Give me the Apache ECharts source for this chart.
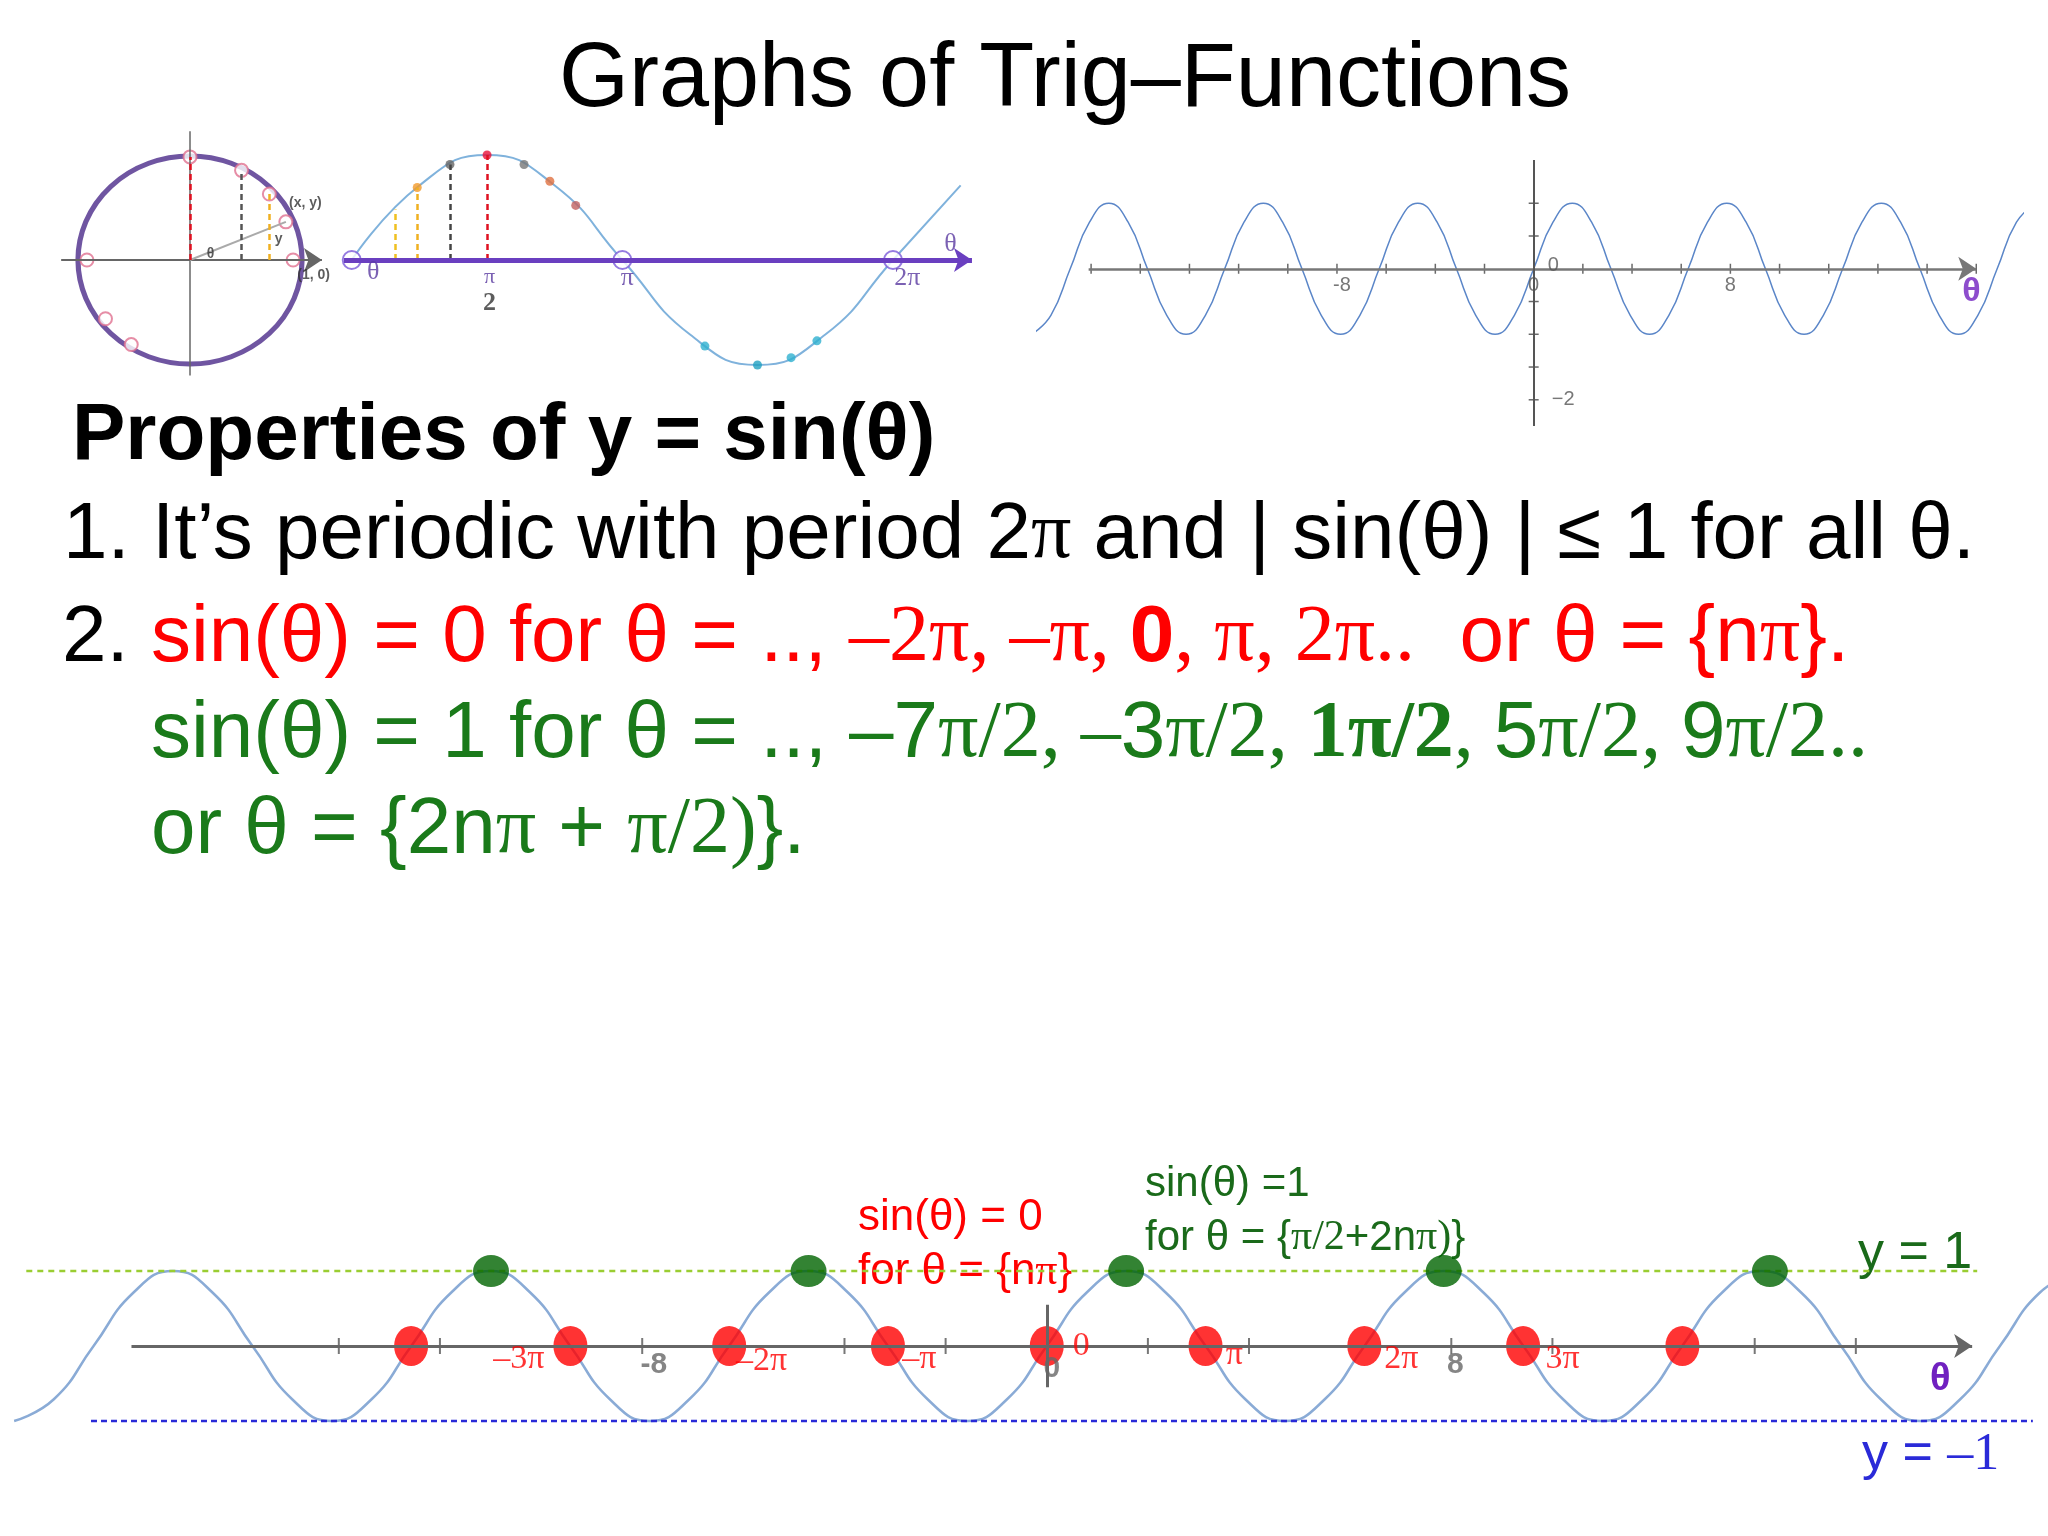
<!DOCTYPE html>
<html>
<head>
<meta charset="utf-8">
<script src="https://cdn.jsdelivr.net/npm/echarts@6/dist/echarts.min.js"></script>
<style>html,body{margin:0;padding:0;background:#fff}#main{width:2048px;height:1536px}</style>
</head>
<body>
<div id="main"></div>
<script>
// sine curve, x in steps of pi/4 (units), y values
var sineQuarter = [-26,-25,-24,-23,-22,-21,-20,-19,-18,-17,-16,-15,-14,-13,-12,-11,-10,-9,-8,-7,-6,-5,-4,-3,-2,-1,0,1,2,3,4,5,6,7,8,9,10,11,12,13,14,15,16,17,18,19,20,21,22,23,24,25,26];
var sineValues  = [-1,-0.71,0,0.71,1,0.71,0,-0.71,-1,-0.71,0,0.71,1,0.71,0,-0.71,-1,-0.71,0,0.71,1,0.71,0,-0.71,-1,-0.71,0,0.71,1,0.71,0,-0.71,-1,-0.71,0,0.71,1,0.71,0,-0.71,-1,-0.71,0,0.71,1,0.71,0,-0.71,-1,-0.71,0,0.71,1];

// bottom chart
var zeroTheta = [-12.57,-9.42,-6.28,-3.14,0,3.14,6.28,9.42,12.57];
var peakTheta = [-10.99,-4.71,1.57,7.85,14.3];
var zeroLabels = [[-10.44,-0.18,'–3π'],[-5.64,-0.2,'–2π'],[-2.52,-0.18,'–π'],[0.68,0.0,'0'],[3.71,-0.12,'π'],[7.01,-0.18,'2π'],[10.2,-0.18,'3π']];
var grayLabels = [[-7.77,-0.25,'-8'],[8.08,-0.25,'8'],[0.1,-0.3,'0']];
var bottomTicks = [-14,-12,-8,-4,-2,2,4,8,10,14,16];
var yOneLine = [[-20.18,1],[18.4,1]];
var yMinusLine = [[-18.9,-1],[19.5,-1]];

// top right chart
var rightTicksX = [-18,-16,-14,-12,-10,-8,-6,-4,-2,2,4,6,8,10,12,14,16,18];
var rightTicksY = [1,0.5,-0.5,-1,-1.5,-2];
var rightLabels = [[-7.8,-0.25,'-8'],[8,-0.25,'8'],[0.8,0.05,'0'],[0,-0.25,'0'],[1.2,-2,'−2']];

// top left sine
var leftDots = [[0.76,0.69,'#f39a2a'],[1.14,0.91,'#666666'],[1.5708,1,'#e8103a'],[2.0,0.91,'#777777'],[2.3,0.75,'#e07040'],[2.6,0.52,'#c06060'],[4.1,-0.82,'#30b0d0'],[4.71,-1,'#20a0c0'],[5.1,-0.93,'#30b0d0'],[5.4,-0.77,'#30b0d0']];
var leftDrops = [[0.5,0.48,'#f0c020'],[0.76,0.69,'#f0b020'],[1.14,0.91,'#444444'],[1.5708,1,'#e01020']];
var leftOpen = [0,3.1416,6.2832];
var leftLabels = [[0.25,-0.12,'θ',22],[3.2,-0.17,'π',26],[6.45,-0.17,'2π',26],[6.95,0.15,'θ',34]];

// unit circle
var circlePts = [[0,1],[0.5,0.87],[0.77,0.64],[0.93,0.37],[-1,0],[-0.82,-0.57],[-0.57,-0.82],[1,0]];
var circleDrops = [[0,1,'#e01020'],[0.5,0.87,'#555555'],[0.77,0.64,'#f0b020']];
var circleLabels = [[1.12,0.55,'(x, y)'],[1.2,-0.15,'(1, 0)'],[0.2,0.06,'θ'],[0.86,0.2,'y']];

var SANS = 'Liberation Sans', SERIF = 'Liberation Serif';
var FS = 80;
var chart = echarts.init(document.getElementById('main'));

function seg(a, b, color, width, type, sym) {
  return {type:'line', xAxisIndex:a, yAxisIndex:a, data:[], silent:true,
    markLine:{symbol:sym||['none','none'], symbolSize:18, label:{show:false}, silent:true,
      lineStyle:{color:color, width:width, type:type||'solid'}, data:b}};
}
function labels(g, items, color, size, family, weight) {
  return {type:'scatter', xAxisIndex:g, yAxisIndex:g, symbolSize:1, itemStyle:{color:'rgba(0,0,0,0)'},
    data:items.map(function(d){return [d[0],d[1],d[2]];}), silent:true, z:5,
    label:{show:true, position:'inside', color:color, fontFamily:family, fontWeight:weight||'normal',
      fontSize:size, formatter:function(p){return p.value[2];}}};
}
var sineData = sineQuarter.map(function(k,i){return [k*Math.PI/4, sineValues[i]];});
var leftSine = sineData.filter(function(d){return d[0] >= 0 && d[0] <= 7.1;});

var grids = [
  {left:0, top:1196, width:2048, height:300},
  {left:1037, top:160, width:985, height:266},
  {left:344, top:134, width:634, height:252},
  {left:56, top:126, width:268, height:268}
];
var xr = [[-20.7,19.8],[-20.2,19.86],[-0.09,7.27],[-1.3,1.3]];
var yr = [[-2,2],[-2.4,1.66],[-1.2,1.2],[-1.3,1.3]];

var series = [];
// bottom
series.push({type:'line', xAxisIndex:0, yAxisIndex:0, data:sineData, smooth:0.5, showSymbol:false, lineStyle:{color:'#8aabd6', width:2.5}, silent:true});
series.push(seg(0, [[{coord:[-18.1,0]},{coord:[18.3,0]}]], '#666', 3, 'solid', ['none','arrow']));
series.push(seg(0, [[{coord:[0,0.55]},{coord:[0,-0.55]}]], '#666', 3));
series.push({type:'scatter', xAxisIndex:0, yAxisIndex:0, data:bottomTicks.map(function(t){return [t,0];}), symbol:'rect', symbolSize:[2,16], itemStyle:{color:'#555'}, silent:true});
series.push({type:'line', xAxisIndex:0, yAxisIndex:0, data:yOneLine, showSymbol:false, lineStyle:{color:'#9acd32', width:2.5, type:[6,5]}, silent:true});
series.push({type:'line', xAxisIndex:0, yAxisIndex:0, data:yMinusLine, showSymbol:false, lineStyle:{color:'#2a2ad8', width:2.5, type:[6,4]}, silent:true});
series.push({type:'scatter', xAxisIndex:0, yAxisIndex:0, data:zeroTheta.map(function(t){return [t,0];}), symbolSize:[34,40], itemStyle:{color:'#ff0000'}, z:4, silent:true});
series.push({type:'scatter', xAxisIndex:0, yAxisIndex:0, data:peakTheta.map(function(t){return [t,1];}), symbolSize:[36,32], itemStyle:{color:'#006400'}, z:4, silent:true});
series.push(labels(0, zeroLabels, '#ff0000', 34, SERIF));
series.push(labels(0, grayLabels, '#666', 30, SANS, 'bold'));
// top right
series.push({type:'line', xAxisIndex:1, yAxisIndex:1, data:sineData, smooth:0.5, showSymbol:false, lineStyle:{color:'#5b86c8', width:1.5}, silent:true});
series.push(seg(1, [[{coord:[-18.1,0]},{coord:[18.0,0]}]], '#777', 2.5, 'solid', ['none','arrow']));
series.push(seg(1, [[{coord:[0,1.66]},{coord:[0,-2.4]}]], '#555', 2));
series.push({type:'scatter', xAxisIndex:1, yAxisIndex:1, data:rightTicksX.map(function(t){return [t,0];}), symbol:'rect', symbolSize:[1.5,10], itemStyle:{color:'#444'}, silent:true});
series.push({type:'scatter', xAxisIndex:1, yAxisIndex:1, data:rightTicksY.map(function(t){return [0,t];}), symbol:'rect', symbolSize:[10,1.5], itemStyle:{color:'#444'}, silent:true});
series.push(labels(1, rightLabels, '#555', 20, SANS));
series.push(labels(1, [[17.8,-0.35,'θ']], '#7020c0', 34, SANS, 'bold'));
// top left sine
series.push({type:'line', xAxisIndex:2, yAxisIndex:2, data:leftSine, smooth:0.5, showSymbol:false, lineStyle:{color:'#7fb2dc', width:2}, silent:true});
series.push(seg(2, leftDrops.map(function(d){return [{coord:[d[0],0], lineStyle:{color:d[2], width:2.5, type:[6,4]}},{coord:[d[0],d[1]]}];}), '#f0b020', 2.5, [6,4]));
series.push(seg(2, [[{coord:[-0.09,0]},{coord:[7.2,0]}]], '#6a3fc0', 5, 'solid', ['none','arrow']));
series.push(seg(2, [[{coord:[-0.03,1.23]},{coord:[-0.03,-1.05]}]], '#555', 1.5));
series.push({type:'scatter', xAxisIndex:2, yAxisIndex:2, data:leftDots.map(function(d){return {value:[d[0],d[1]], itemStyle:{color:d[2]}};}), symbolSize:9, z:4, silent:true});
series.push({type:'scatter', xAxisIndex:2, yAxisIndex:2, data:leftOpen.map(function(t){return [t,0];}), symbol:'emptyCircle', symbolSize:18, itemStyle:{color:'#7a5ad8', borderWidth:2}, z:4, silent:true});
series.push(labels(2, leftLabels, '#5a3aa0', 26, SERIF));
series.push({type:'scatter', xAxisIndex:2, yAxisIndex:2, symbolSize:1, itemStyle:{color:'rgba(0,0,0,0)'}, data:[[1.6,-0.3]], silent:true,
  label:{show:true, position:'inside', formatter:'{a|π}\n{b|2}', rich:{a:{fontFamily:SERIF, fontSize:22, color:'#5a3aa0', padding:[0,0,2,0]}, b:{fontFamily:SERIF, fontSize:26, color:'#333', fontWeight:'bold'}}}});
// unit circle
series.push({type:'scatter', xAxisIndex:3, yAxisIndex:3, data:[[0,0]], symbol:'circle', symbolSize:[224,208], itemStyle:{color:'rgba(0,0,0,0)', borderColor:'#4b2a8a', borderWidth:5}, silent:true});
series.push(seg(3, [[{coord:[-1.25,0]},{coord:[1.28,0]}]], '#666', 2, 'solid', ['none','arrow']));
series.push(seg(3, [[{coord:[0,1.25]},{coord:[0,-1.12]}]], '#666', 1.5));
series.push(seg(3, [[{coord:[0,0]},{coord:[0.93,0.37]}]], '#aaa', 2));
series.push(seg(3, circleDrops.map(function(d){return [{coord:[d[0],0], lineStyle:{color:d[2], width:2.5, type:[6,4]}},{coord:[d[0],d[1]]}];}), '#f0b020', 2.5, [6,4]));
series.push({type:'scatter', xAxisIndex:3, yAxisIndex:3, data:circlePts, symbol:'emptyCircle', symbolSize:13, itemStyle:{color:'#e07090', borderWidth:2}, z:4, silent:true});
series.push(labels(3, circleLabels, '#333', 14, SANS, 'bold'));

function richS(color, extra) {
  var r = {s:{fontFamily:SERIF, fontSize:FS, fill:color}};
  for (var k in extra) r[k] = extra[k];
  return r;
}

var option = {
  backgroundColor:'#fff',
  animation:false,
  grid:grids,
  xAxis:grids.map(function(g,i){return {type:'value', gridIndex:i, min:xr[i][0], max:xr[i][1], show:false};}),
  yAxis:grids.map(function(g,i){return {type:'value', gridIndex:i, min:yr[i][0], max:yr[i][1], show:false};}),
  series:series,
  graphic:[
    {type:'text', x:1065, y:81, style:{text:'Graphs of Trig–Functions', font:'90px "Liberation Sans"', fill:'#000', align:'center', verticalAlign:'middle'}},
    {type:'text', x:72, y:437, style:{text:'Properties of y = sin(θ)', font:'bold ' + FS + 'px "Liberation Sans"', fill:'#000', verticalAlign:'middle'}},
    {type:'text', x:63, y:536, style:{text:'1. It’s periodic with period 2{s|π} and | sin(θ) | ≤ 1 for all θ.', font:FS + 'px "Liberation Sans"', fill:'#000', verticalAlign:'middle',
      rich:richS('#000')}},
    {type:'text', x:62, y:639, style:{text:'{k|2. }sin(θ) = 0 for θ = .., {s|–2π, –π, }{b|0}{s|, π, 2π..}  or θ = {n{s|π}}.', font:FS + 'px "Liberation Sans"', fill:'#ff0000', verticalAlign:'middle',
      rich:richS('#ff0000', {k:{fill:'#000', fontSize:FS, fontFamily:SANS}, b:{fontFamily:SANS, fontWeight:'bold', fontSize:FS, fill:'#ff0000'}})}},
    {type:'text', x:151, y:735, style:{text:'sin(θ) = 1 for θ = .., –7{s|π/2, –}3{s|π/2, }{b|1π/2}{s|, }5{s|π/2, }9{s|π/2..}', font:FS + 'px "Liberation Sans"', fill:'#1a7a1a', verticalAlign:'middle',
      rich:richS('#1a7a1a', {b:{fontFamily:SERIF, fontWeight:'bold', fontSize:FS, fill:'#1a7a1a'}})}},
    {type:'text', x:151, y:831, style:{text:'or θ = {2n{s|π} + {s|π/2)}}.', font:FS + 'px "Liberation Sans"', fill:'#1a7a1a', verticalAlign:'middle',
      rich:richS('#1a7a1a')}},
    {type:'text', x:858, y:1218, style:{text:'sin(θ) = 0', font:'44px "Liberation Sans"', fill:'#ff0000', verticalAlign:'middle'}},
    {type:'text', x:858, y:1272, style:{text:'for θ = {n{s|π}}', font:'44px "Liberation Sans"', fill:'#ff0000', verticalAlign:'middle', rich:{s:{fontFamily:SERIF, fontSize:44, fill:'#ff0000'}}}},
    {type:'text', x:1145, y:1184, style:{text:'sin(θ) =1', font:'42px "Liberation Sans"', fill:'#1a6a1a', verticalAlign:'middle'}},
    {type:'text', x:1145, y:1238, style:{text:'for θ = {{s|π/2}+2n{s|π)}}', font:'42px "Liberation Sans"', fill:'#1a6a1a', verticalAlign:'middle', rich:{s:{fontFamily:SERIF, fontSize:42, fill:'#1a6a1a'}}}},
    {type:'text', x:1858, y:1254, style:{text:'y = 1', font:'52px "Liberation Sans"', fill:'#1a6a1a', verticalAlign:'middle'}},
    {type:'text', x:1862, y:1455, style:{text:'y = {s|–1}', font:'52px "Liberation Sans"', fill:'#2a2ad8', verticalAlign:'middle', rich:{s:{fontFamily:SERIF, fontSize:52, fill:'#2a2ad8'}}}},
    {type:'text', x:1930, y:1380, style:{text:'θ', font:'bold 38px "Liberation Sans"', fill:'#7020c0', verticalAlign:'middle'}}
  ]
};
chart.setOption(option);
</script>
</body>
</html>
